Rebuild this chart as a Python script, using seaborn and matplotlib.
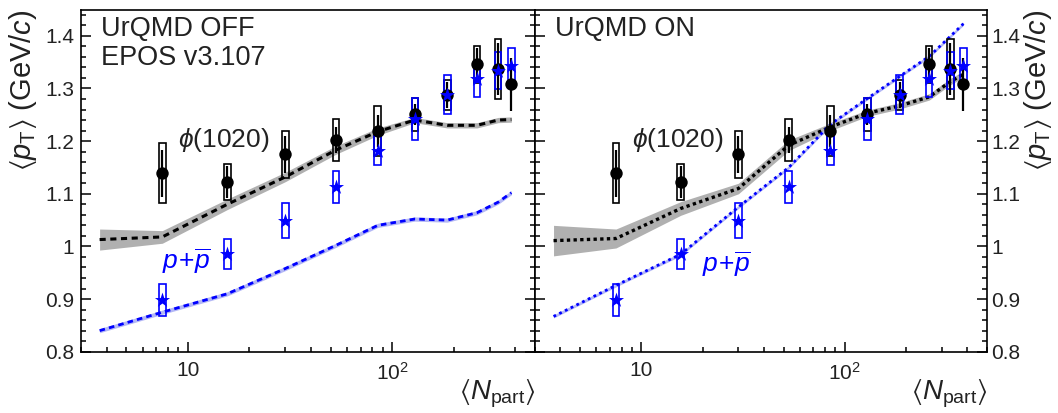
import numpy as np
import pandas as pd
import matplotlib
matplotlib.use("Agg")
import matplotlib.pyplot as plt
import seaborn as sns
from matplotlib.ticker import MultipleLocator, FuncFormatter, NullFormatter, LogLocator

# ---------------- data ----------------
npart = [7.5, 15.6, 30.0, 53.0, 85.0, 129.0, 186.0, 260.0, 330.0, 383.0]
phi_pt = [1.139, 1.122, 1.175, 1.202, 1.219, 1.251, 1.288, 1.346, 1.337, 1.308]
phi_stat = [0.045, 0.030, 0.035, 0.025, 0.030, 0.020, 0.025, 0.030, 0.050, 0.050]
phi_syst = [0.057, 0.034, 0.045, 0.040, 0.047, 0.031, 0.028, 0.035, 0.057, np.nan]

p_pt = [0.898, 0.986, 1.049, 1.113, 1.182, 1.242, 1.288, 1.318, 1.334, 1.343]
p_stat = [0.004, 0.004, 0.004, 0.004, 0.004, 0.005, 0.006, 0.008, 0.010, 0.012]
p_syst = [0.030, 0.029, 0.033, 0.030, 0.028, 0.040, 0.037, 0.035, 0.035, 0.034]

model_x = [3.7, 7.5, 15.6, 30.0, 53.0, 85.0, 129.0, 186.0, 260.0, 330.0, 383.0]
off_phi = [1.013, 1.018, 1.080, 1.132, 1.183, 1.218, 1.240, 1.230, 1.230, 1.240, 1.241]
off_phi_err = [0.020, 0.012, 0.010, 0.009, 0.008, 0.007, 0.005, 0.005, 0.005, 0.005, 0.005]
off_p = [0.840, 0.875, 0.910, 0.958, 1.002, 1.040, 1.052, 1.050, 1.064, 1.084, 1.102]
off_p_err = [0.004, 0.004, 0.004, 0.004, 0.004, 0.004, 0.004, 0.004, 0.004, 0.004, 0.004]
on_phi = [1.011, 1.015, 1.072, 1.110, 1.192, 1.227, 1.253, 1.267, 1.284, 1.313, 1.327]
on_phi_err = [0.029, 0.018, 0.013, 0.010, 0.010, 0.007, 0.006, 0.006, 0.006, 0.006, 0.006]
on_p = [0.867, 0.926, 0.985, 1.075, 1.150, 1.232, 1.281, 1.323, 1.361, 1.399, 1.423]
on_p_err = [0.003, 0.003, 0.003, 0.003, 0.003, 0.003, 0.003, 0.003, 0.003, 0.003, 0.003]

panel_titles = [["UrQMD OFF", "EPOS v3.107"], ["UrQMD ON"]]
yticks = [0.8, 0.9, 1.0, 1.1, 1.2, 1.3, 1.4]
xticks = [10, 100]
xticklabels = ["10", "$10^{2}$"]

# ---------------- style ----------------
sns.set_style("ticks")
plt.rcParams["font.family"] = ["Liberation Sans", "DejaVu Sans"]
plt.rcParams["mathtext.fontset"] = "custom"
plt.rcParams["mathtext.rm"] = "Liberation Sans"
plt.rcParams["mathtext.it"] = "Liberation Sans:italic"
plt.rcParams["mathtext.bf"] = "Liberation Sans:bold"
plt.rcParams["mathtext.sf"] = "Liberation Sans"
plt.rcParams["mathtext.fallback"] = "stixsans"

BLUE = "#0000ff"
GREY_BAND = "#b0b0b0"
BLUE_BAND = "#b4b8f5"
TXT = "#222222"

fig = plt.figure(figsize=(10.58, 4.13), dpi=100)
bottom = (413 - 351.7) / 413
height = 342.2 / 413
axL = fig.add_axes([81 / 1058, bottom, 454 / 1058, height])
axR = fig.add_axes([535 / 1058, bottom, 452 / 1058, height])

half_w = 0.016  # box half-width in decades


def draw_data(ax):
    x = np.array(npart)
    for vals, syst, col in [(phi_pt, phi_syst, "black"), (p_pt, p_syst, BLUE)]:
        v = np.array(vals)
        s = np.array(syst)
        ok = ~np.isnan(s)
        left = x[ok] * 10 ** (-half_w)
        width = x[ok] * (10 ** half_w - 10 ** (-half_w))
        ax.bar(left, 2 * s[ok], width=width, bottom=v[ok] - s[ok], align="edge",
               facecolor="none", edgecolor=col, linewidth=1.2, zorder=4)
    ax.errorbar(x, p_pt, yerr=p_stat, fmt="none", ecolor=BLUE, elinewidth=1.5, zorder=5)
    ax.errorbar(x, phi_pt, yerr=phi_stat, fmt="none", ecolor="black", elinewidth=1.6, zorder=6)
    dfphi = pd.DataFrame({"x": npart, "y": phi_pt})
    dfp = pd.DataFrame({"x": npart, "y": p_pt})
    sns.scatterplot(data=dfphi, x="x", y="y", ax=ax, marker="o", s=80, color="black",
                    edgecolor="black", linewidth=0, zorder=7)
    sns.scatterplot(data=dfp, x="x", y="y", ax=ax, marker="*", s=130, color=BLUE,
                    edgecolor=BLUE, linewidth=0, zorder=8)


def draw_model(ax, y, err, color, band, dashes, lw):
    y = np.array(y)
    e = np.array(err)
    ax.fill_between(model_x, y - e, y + e, color=band, linewidth=0, zorder=2)
    df = pd.DataFrame({"x": model_x, "y": y})
    sns.lineplot(data=df, x="x", y="y", ax=ax, color=color, linewidth=lw,
                 estimator=None, sort=False, zorder=3, dashes=False)
    ax.lines[-1].set_dashes(dashes)


draw_model(axL, off_phi, off_phi_err, "black", GREY_BAND, (2.0, 1.5), 2.2)
draw_model(axL, off_p, off_p_err, BLUE, BLUE_BAND, (2.0, 1.5), 2.0)
draw_model(axR, on_phi, on_phi_err, "black", GREY_BAND, (1.0, 1.0), 2.4)
draw_model(axR, on_p, on_p_err, BLUE, BLUE_BAND, (1.0, 1.3), 2.0)
draw_data(axL)
draw_data(axR)

for i, ax in enumerate([axL, axR]):
    ax.set_xscale("log")
    ax.set_xlim(3, 500)
    ax.set_ylim(0.8, 1.45)
    ax.set_xlabel("")
    ax.set_ylabel("")
    ax.set_yticks(yticks)
    ax.yaxis.set_minor_locator(MultipleLocator(0.02))
    ax.yaxis.set_major_formatter(FuncFormatter(lambda v, p: "%g" % v))
    ax.set_xticks(xticks)
    ax.set_xticklabels(xticklabels)
    ax.xaxis.set_minor_locator(LogLocator(base=10, subs=np.arange(2, 10)))
    ax.xaxis.set_minor_formatter(NullFormatter())
    for sp in ax.spines.values():
        sp.set_visible(True)
        sp.set_linewidth(1.2)
        sp.set_color("black")
    ax.tick_params(axis="both", which="both", direction="in", top=False, bottom=True,
                   left=True, right=True, width=1.1, colors="black", labelsize=15)
    ax.tick_params(axis="both", which="major", length=7)
    ax.tick_params(axis="both", which="minor", length=3.5)
    ax.tick_params(axis="x", which="major", pad=7)
    if i == 0:
        ax.tick_params(axis="y", labelleft=True, labelright=False, pad=5)
    else:
        ax.tick_params(axis="y", labelleft=False, labelright=True, pad=3)
    for t in ax.get_xticklabels() + ax.get_yticklabels():
        t.set_color(TXT)

    ax.text(1.0, -0.14, r"$\langle N_{\mathrm{part}}\rangle$", transform=ax.transAxes,
            ha="right", va="baseline", fontsize=20, color=TXT)
    ax.text(9.0, 1.202, r"$\phi$(1020)", ha="left", va="center", fontsize=19, color=TXT)

    for k, t in enumerate(panel_titles[i]):
        ax.text(0.045, 0.922 - k * 0.083, t, transform=ax.transAxes, ha="left",
                va="baseline", fontsize=19.5, color=TXT)

axL.text(7.5, 0.958, r"$p\!+\!\overline{p}$", ha="left", va="baseline", fontsize=19, color=BLUE)
axR.text(19.9, 0.952, r"$p\!+\!\overline{p}$", ha="left", va="baseline", fontsize=19, color=BLUE)

ylab = r"$\langle p_{\mathrm{T}}\rangle$ (GeV/$c$)"
axL.text(-0.128, 1.0, ylab, transform=axL.transAxes, rotation=90, ha="center", va="top",
         fontsize=21, color=TXT)
axR.text(1.112, 1.0, ylab, transform=axR.transAxes, rotation=90, ha="center", va="top",
         fontsize=21, color=TXT)

fig.savefig("out.png", dpi=100)
